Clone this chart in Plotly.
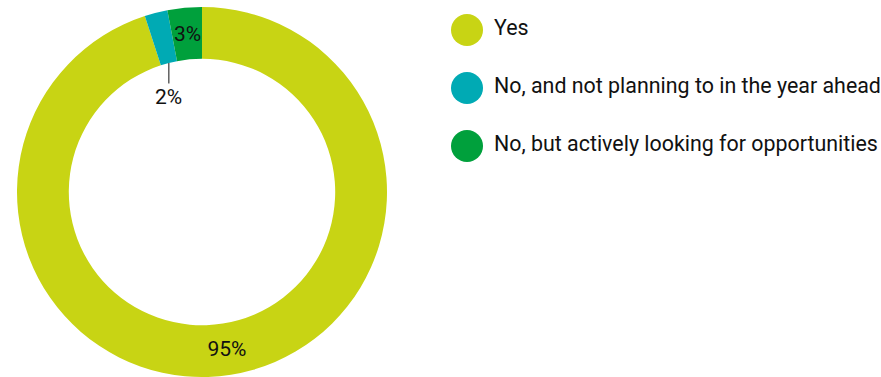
import math
import plotly.graph_objects as go

categories = ["Yes", "No, and not planning to in the year ahead", "No, but actively looking for opportunities"]
values = [95, 2, 3]
colors = ["#C8D414", "#00AAB4", "#00A03C"]

W, H = 881, 377
FONT = "Roboto, 'Open Sans', sans-serif"
FS = 21

# pie geometry (pixels)
cx, cy, R = 202, 192, 185
hole = 0.72

fig = go.Figure()

fig.add_trace(go.Pie(
    labels=categories,
    values=values,
    marker=dict(colors=colors, line=dict(width=0)),
    hole=hole,
    sort=False,
    direction="clockwise",
    rotation=0,
    texttemplate=["%{percent:.0%}", "", ""],
    textposition="inside",
    insidetextorientation="horizontal",
    textfont=dict(family=FONT, size=FS, color="#111111"),
    domain=dict(x=[(cx - R) / W, (cx + R) / W], y=[0, (2 * R) / H]),
    showlegend=False,
    hoverinfo="label+percent",
))

total = sum(values)


def slice_point(i, r):
    start = sum(values[:i]) / total
    mid = start + values[i] / total / 2
    theta = mid * 2 * math.pi
    px = cx + r * math.sin(theta)
    py = cy - r * math.cos(theta)
    return px / W, 1 - py / H


r_in = hole * R
r_mid = (hole * R + R) / 2

# leader label for the small slice
x2, y2 = slice_point(1, r_in)
fig.add_annotation(
    x=x2, y=y2, xref="paper", yref="paper",
    text=f"{round(values[1] / total * 100)}%",
    showarrow=True, arrowhead=0, arrowwidth=1, arrowcolor="#111111",
    ax=0, ay=34, standoff=0,
    font=dict(family=FONT, size=FS, color="#111111"),
)
# label for the third slice (kept at full size)
x3, y3 = slice_point(2, r_mid)
fig.add_annotation(
    x=x3, y=y3, xref="paper", yref="paper",
    xanchor="center", yanchor="middle",
    text=f"{round(values[2] / total * 100)}%",
    showarrow=False,
    font=dict(family=FONT, size=FS, color="#111111"),
)

# custom legend with large circles
idx = list(range(len(categories)))
fig.add_trace(go.Scatter(
    x=[467] * len(categories), y=idx, mode="markers",
    marker=dict(size=32, color=colors, line=dict(width=0)),
    xaxis="x", yaxis="y", showlegend=False, hoverinfo="skip",
))
fig.add_trace(go.Scatter(
    x=[494] * len(categories), y=idx, mode="text", text=categories,
    textposition="middle right",
    textfont=dict(family=FONT, size=21.4, color="#111111"),
    xaxis="x", yaxis="y", showlegend=False, hoverinfo="skip",
))

step = 58
top = 30
fig.update_layout(
    width=W, height=H,
    margin=dict(l=0, r=0, t=0, b=0),
    paper_bgcolor="white", plot_bgcolor="rgba(0,0,0,0)",
    xaxis=dict(range=[0, W], domain=[0, 1], visible=False, fixedrange=True),
    yaxis=dict(range=[(H - top) / step, -top / step], domain=[0, 1], visible=False, fixedrange=True),
    font=dict(family=FONT),
)

fig.write_html("out.html")
